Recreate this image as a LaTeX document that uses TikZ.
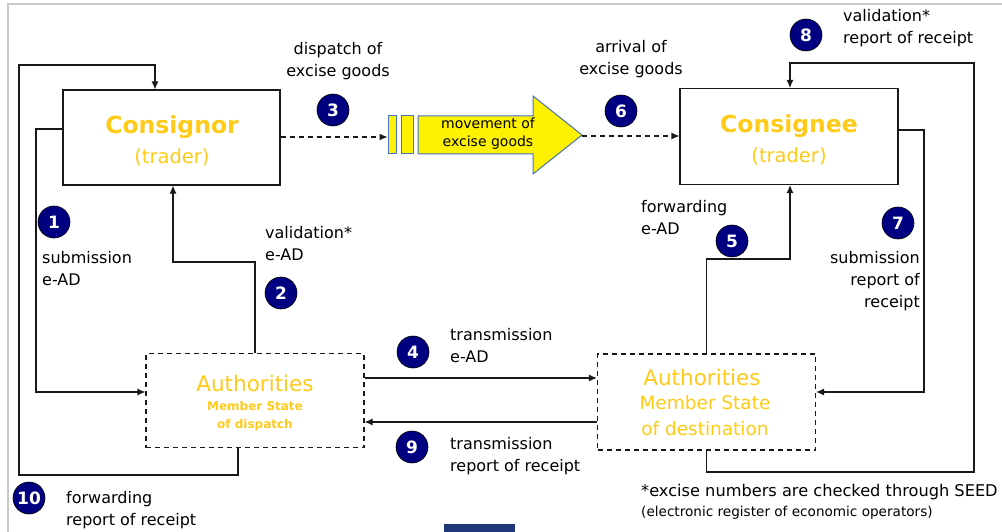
\documentclass[tikz,border=0pt]{standalone}
\usepackage{fontspec}
\setmainfont{DejaVu Sans}
\usetikzlibrary{arrows.meta,calc}
\definecolor{gold}{RGB}{255,202,24}
\definecolor{navy}{RGB}{0,0,128}
\definecolor{arrowblue}{RGB}{68,114,196}
\definecolor{framegray}{RGB}{200,200,200}
\definecolor{barblue}{RGB}{31,56,122}
\definecolor{linecol}{RGB}{25,25,25}
\begin{document}
\begin{tikzpicture}[x=1pt,y=-1pt,
  solidbox/.style={draw=linecol, line width=1.1pt, inner sep=0pt},
  dashbox/.style={draw=linecol, line width=1.1pt, dash pattern=on 5pt off 4pt, inner sep=0pt},
  arr/.style={draw=linecol, line width=1.1pt, -{Latex[length=8pt,width=7pt]}},
  darr/.style={arr, dash pattern=on 5pt off 4pt},
  num/.style={circle, draw=black, line width=0.6pt, fill=navy, minimum size=32pt, inner sep=0pt,
    text=white, font=\fontsize{17}{17}\selectfont\bfseries},
  lbl/.style={inner sep=0pt, font=\fontsize{16}{22}\selectfont, text=black},
  gt/.style={inner sep=0pt, text=gold},
  mvrect/.style={draw=arrowblue, fill=yellow, line width=1pt, inner sep=0pt}
]
\useasboundingbox (0,0) rectangle (1002,532);
% frame
\draw[framegray, line width=2.5pt] (8,532) -- (8,4) -- (1002,4);
\fill[barblue] (444,524) rectangle (515,532);

% boxes
\node[solidbox, minimum width=217pt, minimum height=95pt] (consignor) at (171.5,137.5) {};
\node[solidbox, minimum width=218pt, minimum height=96pt] (consignee) at (789,136.5) {};
\node[dashbox, minimum width=218pt, minimum height=94pt] (authdisp) at (255,400.5) {};
\node[dashbox, minimum width=218pt, minimum height=96pt] (authdest) at (706.5,402) {};

% box texts
\node[gt, font=\fontsize{23.5}{23.5}\selectfont\bfseries] (consignorT) at (172,127) {Consignor};
\node[gt, font=\fontsize{19.5}{19.5}\selectfont] (consignorS) at (172,157) {(trader)};
\node[gt, font=\fontsize{23.5}{23.5}\selectfont\bfseries] (consigneeT) at (789,126) {Consignee};
\node[gt, font=\fontsize{19.5}{19.5}\selectfont] (consigneeS) at (789,156) {(trader)};
\node[gt, font=\fontsize{21.5}{21.5}\selectfont] (authdispT) at (255,383) {Authorities};
\node[gt, font=\fontsize{12}{18}\selectfont\bfseries, align=center] (authdispS) at (255,416) {Member State\\of dispatch};
\node[gt, font=\fontsize{21.5}{21.5}\selectfont] (authdestT) at (702,377) {Authorities};
\node[gt, font=\fontsize{18.5}{26}\selectfont, align=center] (authdestS) at (705,416) {Member State\\of destination};

% movement arrow
\node[mvrect, minimum width=8pt, minimum height=38pt] (r1) at (392,135) {};
\node[mvrect, minimum width=12pt, minimum height=38pt] (r2) at (407,135) {};
\draw[draw=arrowblue, fill=yellow, line width=1pt] (418,116) -- (533,116) -- (533,96) -- (582,135) -- (533,174) -- (533,154) -- (418,154) -- cycle;
\coordinate (tip) at (582,136);
\node[inner sep=0pt, align=center, font=\fontsize{14}{18}\selectfont] (mvT) at (488,134) {movement of\\excise goods};

% connectors
\draw[darr] (consignor.east |- 0,137) -- (r1.west |- 0,137);
\draw[darr] (tip) -- (consignee.west |- 0,136);
\draw[arr] (consignor.west |- 0,129) -| (36,392) -- (authdisp.west |- 0,392);
\draw[arr] (authdisp.north) |- (173,262) -- (consignor.south -| 173,0);
\draw[arr] (authdisp.south -| 238,0) |- (19,475) |- (155,65) -- (consignor.north -| 155,0);
\draw[arr] (authdisp.east |- 0,378) -- (authdest.west |- 0,378);
\draw[arr] (authdest.west |- 0,422) -- (authdisp.east |- 0,422);
\draw[arr] (authdest.north) |- (790,259) -- (consignee.south -| 790,0);
\draw[arr] (consignee.east |- 0,130) -| (924,392) -- (authdest.east |- 0,392);
\draw[arr] (authdest.south) |- (974,472) |- (790,63) -- (consignee.north -| 790,0);

% numbers
\node[num] (n1) at (54,222) {1};
\node[num] (n2) at (281,293) {2};
\node[num] (n3) at (333,110) {3};
\node[num] (n4) at (413,352) {4};
\node[num] (n5) at (732,241) {5};
\node[num] (n6) at (621,111) {6};
\node[num] (n7) at (898,223) {7};
\node[num] (n8) at (806,35) {8};
\node[num] (n9) at (412,447) {9};
\node[num] (n10) at (29,498) {10};

% labels
\node[lbl, align=center] (l3) at (338,61) {dispatch of\\excise goods};
\node[lbl, align=center] (l6) at (631,59) {arrival of\\excise goods};
\node[lbl, align=left, anchor=west] (l1) at (42,269) {submission\\e-AD};
\node[lbl, align=left, anchor=west] (l2) at (265,244) {validation*\\e-AD};
\node[lbl, align=left, anchor=west] (l5) at (641,218) {forwarding\\e-AD};
\node[lbl, align=right, anchor=east] (l7) at (920,281) {submission\\report of \\receipt};
\node[lbl, align=left, anchor=west] (l8) at (843,28) {validation*\\report of receipt};
\node[lbl, align=left, anchor=west] (l4) at (450,346) {transmission\\e-AD};
\node[lbl, align=left, anchor=west] (l9) at (450,456) {transmission\\report of receipt};
\node[lbl, align=left, anchor=west] (l10) at (66,510) {forwarding\\report of receipt};
\node[lbl, anchor=west, font=\fontsize{16.2}{20}\selectfont] (fn1) at (641,492) {*excise numbers are checked through SEED};
\node[lbl, anchor=west, font=\fontsize{13.6}{15}\selectfont] (fn2) at (641,513) {(electronic register of economic operators)};
\end{tikzpicture}
\end{document}
